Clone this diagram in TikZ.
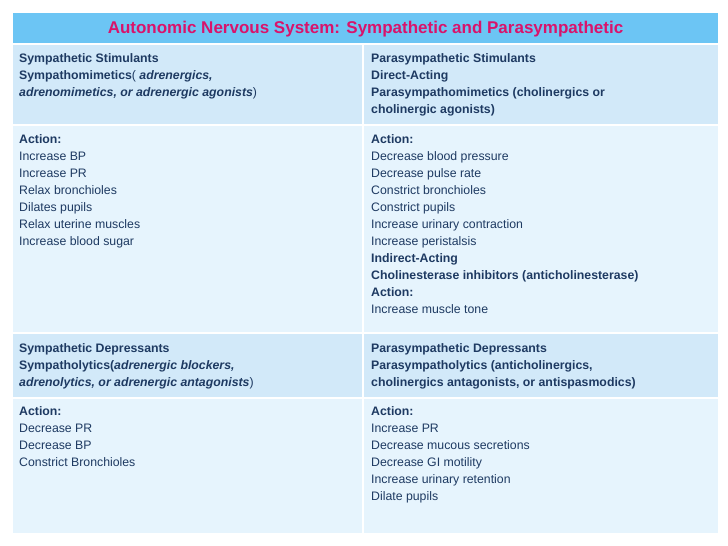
\documentclass[tikz,border=0pt]{standalone}
\usepackage{fontspec}
\setmainfont{Liberation Sans}
\definecolor{hdr}{HTML}{6CC5F4}
\definecolor{ttl}{HTML}{D9136B}
\definecolor{rowa}{HTML}{D2E9F9}
\definecolor{rowb}{HTML}{E6F4FD}
\definecolor{txt}{HTML}{1E3A62}
\begin{document}
\begin{tikzpicture}[x=1pt,y=-1pt,
  cell/.style={anchor=north west,inner sep=0pt,align=left,text=txt,font=\fontsize{12.3}{17}\selectfont},
  sep/.style={draw=white,line width=2pt}]
\useasboundingbox (0,0) rectangle (728,546);
\fill[white] (0,0) rectangle (728,546);
\fill[hdr] (13,13) rectangle (718,44);
\fill[rowa] (13,44) rectangle (718,125);
\fill[rowb] (13,125) rectangle (718,333);
\fill[rowa] (13,333) rectangle (718,398);
\fill[rowb] (13,398) rectangle (718,533);
\draw[sep] (13,44) -- (718,44);
\draw[sep] (13,125) -- (718,125);
\draw[sep] (13,333) -- (718,333);
\draw[sep] (13,398) -- (718,398);
\draw[sep] (363,44) -- (363,533);
\node[text=ttl,font=\bfseries\fontsize{17}{20}\selectfont] (title) at (365.5,29) {Autonomic Nervous System: Sympathetic and Parasympathetic};
\node[cell] (a1) at (19,53) {\textbf{Sympathetic Stimulants}\\\textbf{Sympathomimetics}( \textbf{\itshape adrenergics,}\\\textbf{\itshape adrenomimetics, or adrenergic agonists})};
\node[cell] (b1) at (371,53) {\textbf{Parasympathetic Stimulants}\\\textbf{Direct-Acting}\\\textbf{Parasympathomimetics (cholinergics or}\\\textbf{cholinergic agonists)}};
\node[cell] (a2) at (19,134) {\textbf{Action:}\\Increase BP\\Increase PR\\Relax bronchioles\\Dilates pupils\\Relax uterine muscles\\Increase blood sugar};
\node[cell] (b2) at (371,134) {\textbf{Action:}\\Decrease blood pressure\\Decrease pulse rate\\Constrict bronchioles\\Constrict pupils\\Increase urinary contraction\\Increase peristalsis\\\textbf{Indirect-Acting}\\\textbf{Cholinesterase inhibitors (anticholinesterase)}\\\textbf{Action:}\\Increase muscle tone};
\node[cell] (a3) at (19,343) {\textbf{Sympathetic Depressants}\\\textbf{Sympatholytics(\itshape adrenergic blockers,}\\\textbf{\itshape adrenolytics, or adrenergic antagonists})};
\node[cell] (b3) at (371,343) {\textbf{Parasympathetic Depressants}\\\textbf{Parasympatholytics (anticholinergics,}\\\textbf{cholinergics antagonists, or antispasmodics)}};
\node[cell] (a4) at (19,406) {\textbf{Action:}\\Decrease PR\\Decrease BP\\Constrict Bronchioles};
\node[cell] (b4) at (371,406) {\textbf{Action:}\\Increase PR\\Decrease mucous secretions\\Decrease GI motility\\Increase urinary retention\\Dilate pupils};
\end{tikzpicture}
\end{document}
